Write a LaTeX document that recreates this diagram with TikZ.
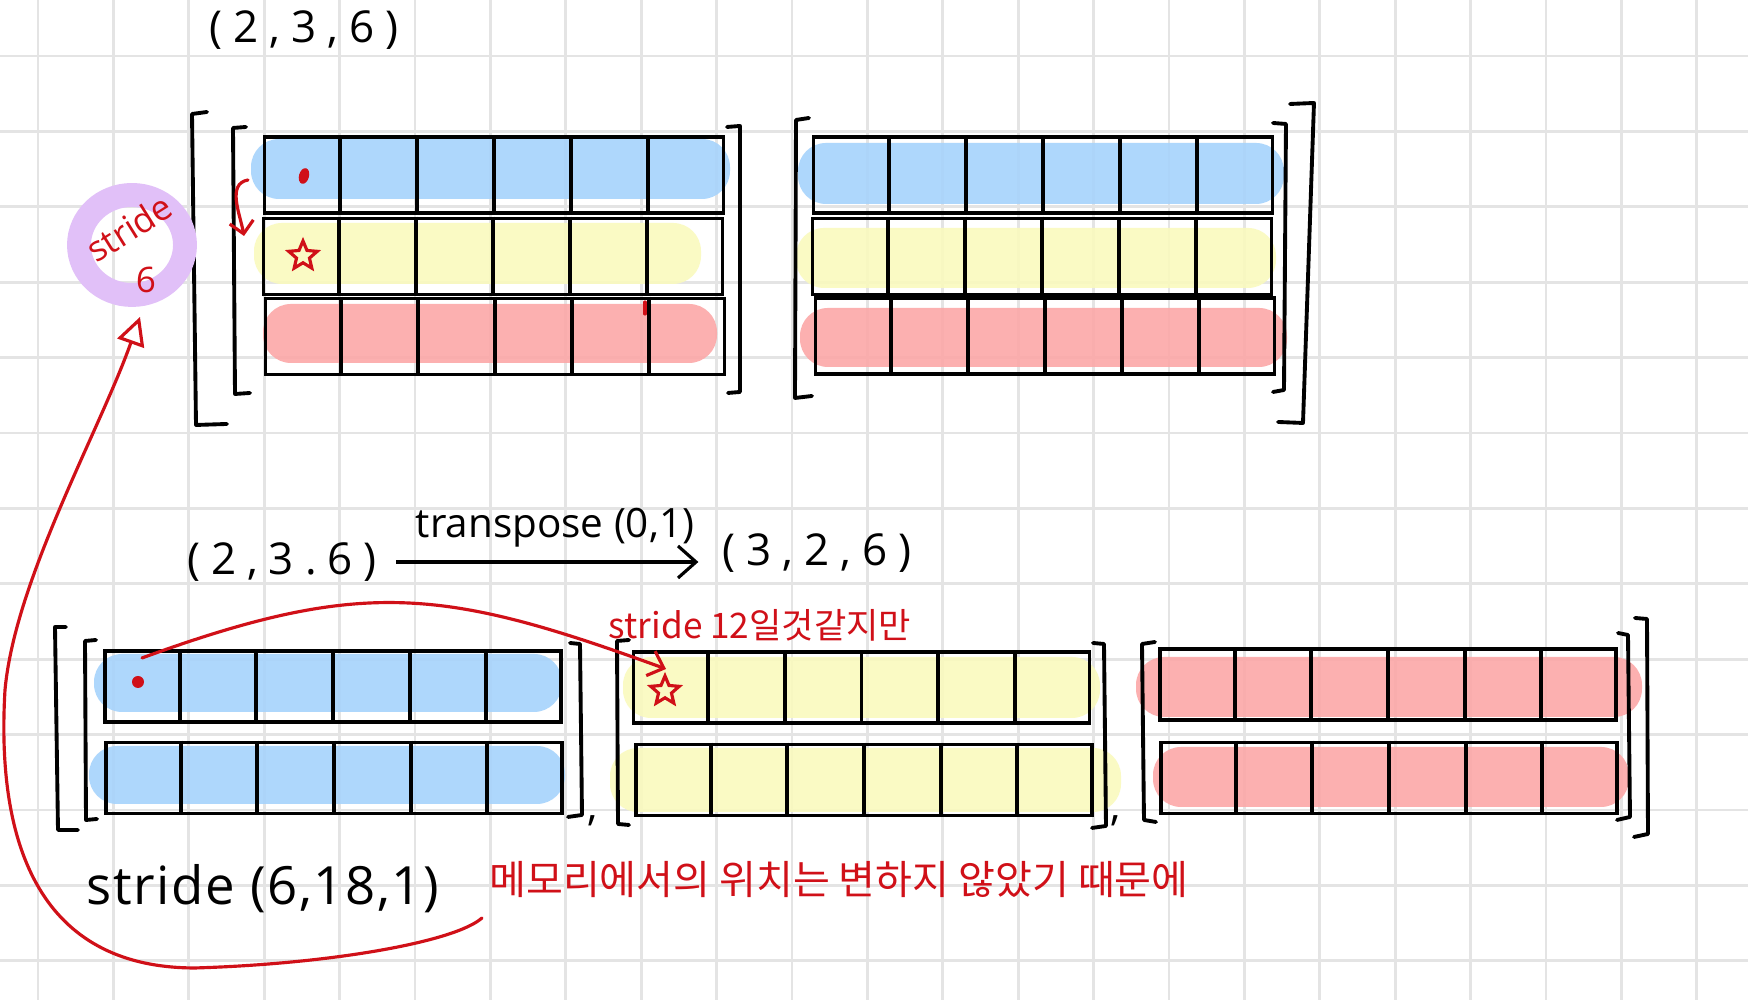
\documentclass[tikz,border=0pt]{standalone}
\usepackage{fontspec}
\setmainfont{Open Sans}
\newfontfamily\korfont{Noto Sans CJK KR}
\newfontfamily\tuplefont[LetterSpace=25]{Open Sans}
\newfontfamily\stridefont[LetterSpace=3]{Open Sans}
\usepackage{tikz}
\usetikzlibrary{arrows.meta,calc,shapes.geometric}
\definecolor{hlblue}{RGB}{166,211,252}
\definecolor{hlyellow}{RGB}{250,250,190}
\definecolor{hlred}{RGB}{252,168,168}
\definecolor{hlpurple}{RGB}{225,192,248}
\definecolor{inkred}{RGB}{208,16,24}
\definecolor{gridgray}{RGB}{228,228,228}
\tikzset{
  gridline/.style={gridgray, line width=0.8pt},
  pill/.style={fill=#1, fill opacity=0.9, rounded corners=2.8mm},
  toprow/.style={draw, line width=1.1pt, minimum width=4.59cm,
    minimum height=0.76cm, inner sep=0pt},
  botrow/.style={toprow, minimum width=4.56cm, minimum height=0.71cm},
  cellline/.style={line width=1.1pt},
  bracketline/.style={line width=1.1pt, line join=round, line cap=round},
  inkline/.style={inkred, line width=0.9pt, line cap=round},
  tuplelbl/.style={font=\tuplefont\fontsize{12.5}{15}\selectfont, inner sep=1pt},
  kornote/.style={font=\korfont\fontsize{10.5}{12}\selectfont, text=inkred, inner sep=1pt},
  ringlbl/.style={font=\fontsize{10}{12}\selectfont, text=inkred, inner sep=0pt},
  redstar/.style={star, star points=5, star point ratio=2.2, draw=inkred,
    line width=0.9pt, minimum size=0.3cm, inner sep=0pt},
}

\begin{document}
\begin{tikzpicture}
\useasboundingbox (0,0) rectangle (17.48,10);
\fill[white] (0,0) rectangle (17.48,10);

% ---------- squared paper ----------
\foreach \k in {0,...,22}
  \draw[gridline] ({0.38+0.754*\k},0) -- ({0.38+0.754*\k},10);
\foreach \k in {0,...,12}
  \draw[gridline] (0,{9.44-0.754*\k}) -- (17.48,{9.44-0.754*\k});

% ---------- highlighter strokes ----------
\fill[pill=hlblue]   (2.51,8.61) rectangle (7.30,8.01);
\fill[pill=hlyellow] (2.54,7.77) rectangle (7.01,7.16);
\fill[pill=hlred]    (2.63,6.96) rectangle (7.17,6.37);
\fill[pill=hlblue]   (7.98,8.57) rectangle (12.84,7.96);
\fill[pill=hlyellow] (7.96,7.72) rectangle (12.76,7.12);
\fill[pill=hlred]    (8.00,6.92) rectangle (12.87,6.33);
\fill[pill=hlblue]   (0.94,3.46) rectangle (5.62,2.88);
\fill[pill=hlblue]   (0.89,2.54) rectangle (5.65,1.96);
\fill[pill=hlyellow] (6.23,3.43) rectangle (11.00,2.82);
\fill[pill=hlyellow] (6.10,2.52) rectangle (11.21,1.88);
\fill[pill=hlred]    (11.36,3.43) rectangle (16.42,2.83);
\fill[pill=hlred]    (11.53,2.53) rectangle (16.29,1.93);

% ---------- tensor (2,3,6) ----------
\node[toprow] (tl1) at (4.94,8.25)  {};
\node[toprow] (tl2) at (4.93,7.435) {};
\node[toprow] (tl3) at (4.95,6.635) {};
\node[toprow] (tr1) at (10.43,8.25) {};
\node[toprow] (tr2) at (10.42,7.435) {};
\node[toprow] (tr3) at (10.45,6.64) {};

% ---------- tensor (3,2,6) ----------
\node[botrow] (ba1) at (3.33,3.135) {};
\node[botrow] (ba2) at (3.34,2.22)  {};
\node[botrow] (bb1) at (8.615,3.125) {};
\node[botrow] (bb2) at (8.64,2.20)  {};
\node[botrow] (bc1) at (13.88,3.155) {};
\node[botrow] (bc2) at (13.89,2.22) {};

\foreach \r in {tl1,tl2,tl3,tr1,tr2,tr3,ba1,ba2,bb1,bb2,bc1,bc2}
  \foreach \i in {1,...,5}
    \draw[cellline] ($(\r.north west)!{\i/6}!(\r.north east)$) -- ($(\r.south west)!{\i/6}!(\r.south east)$);

% ---------- brackets ----------
\draw[bracketline] (2.07,8.88) -- (1.92,8.86) -- (1.96,5.75) -- (2.27,5.76);
\draw[bracketline] (2.46,8.73) -- (2.33,8.72) -- (2.35,6.06) -- (2.50,6.07);
\draw[bracketline] (7.27,8.73) -- (7.40,8.74) -- (7.40,6.08) -- (7.28,6.07);
\draw[bracketline] (8.09,8.82) -- (7.96,8.80) -- (7.95,6.02) -- (8.12,6.04);
\draw[bracketline] (12.73,8.77) -- (12.86,8.76) -- (12.84,6.10) -- (12.73,6.08);
\draw[bracketline] (12.90,8.96) -- (13.14,8.97) -- (13.03,5.77) -- (12.78,5.78);
\draw[bracketline] (0.66,3.73) -- (0.55,3.73) -- (0.58,1.70) -- (0.78,1.70);
\draw[bracketline] (0.96,3.60) -- (0.85,3.59) -- (0.86,1.80) -- (0.97,1.81);
\draw[bracketline] (5.70,3.57) -- (5.80,3.56) -- (5.82,1.85) -- (5.68,1.83);
\draw[bracketline] (6.29,3.60) -- (6.17,3.59) -- (6.18,1.76) -- (6.29,1.75);
\draw[bracketline] (10.93,3.57) -- (11.04,3.56) -- (11.06,1.74) -- (10.92,1.72);
\draw[bracketline] (11.55,3.58) -- (11.42,3.56) -- (11.44,1.80) -- (11.56,1.78);
\draw[bracketline] (16.18,3.67) -- (16.28,3.65) -- (16.30,1.83) -- (16.17,1.80);
\draw[bracketline] (16.35,3.82) -- (16.47,3.81) -- (16.48,1.66) -- (16.34,1.63);
\node[anchor=base, inner sep=0pt, font=\fontsize{12}{14}\selectfont] (comma1) at (5.93,1.79) {,};
\node[anchor=base, inner sep=0pt, font=\fontsize{12}{14}\selectfont] (comma2) at (11.16,1.79) {,};

% ---------- shape labels ----------
\node[tuplelbl] (shapetop) at (3.04,9.70) {(2,3,6)};
\node[tuplelbl] (shapeA) at (2.82,4.38) {(2,3.6)};
\node[tuplelbl] (shapeB) at (8.17,4.47) {(3,2,6)};
\node[font=\fontsize{11.5}{14}\selectfont, inner sep=1pt] (tlabel) at (5.55,4.72) {transpose (0,1)};
\draw[line width=0.9pt, -{Straight Barb[length=1.8mm,width=3.2mm]}, shorten <=1.5mm, shorten >=2mm]
  (shapeA.east) -- (shapeA.east -| shapeB.west);
\node[font=\stridefont\fontsize{15}{18}\selectfont, inner sep=1pt] (strideline) at (2.63,1.11) {stride (6,18,1)};

% ---------- red notes ----------
\node[ellipse, draw=hlpurple, line width=6.8pt, minimum width=1.06cm, minimum height=1.0cm] (ring) at (1.32,7.55) {};
\node[ringlbl, rotate=32] (ringword) at (1.29,7.72) {stride};
\node[ringlbl] (ringsix) at (1.46,7.20) {6};

\node[ellipse, fill=inkred, inner sep=0pt, minimum width=1mm, minimum height=1.6mm, rotate=-15] (dotA) at (3.04,8.24) {};
\node[redstar] (starA) at (3.03,7.44) {};
\coordinate (jumpA) at (2.48,8.20);
\coordinate (jumpB) at (2.44,7.64);
\draw[inkline, -{Straight Barb[length=1.2mm,width=2.4mm]}] (jumpA) to[out=190,in=100] (jumpB);
\draw[inkline] (6.45,6.98) -- (6.45,6.86);

\node[circle, fill=inkred, inner sep=0pt, minimum size=1.2mm] (dotB) at (1.38,3.18) {};
\node[redstar] (starB) at (6.65,3.09) {};
\draw[inkline, -{Straight Barb[length=1.4mm,width=2.6mm]}]
  ([shift={(0.04,0.24)}]dotB.center) to[out=20,in=160,looseness=1.15] ([shift={(0.01,0.22)}]starB.center);
\node[kornote, font=\korfont\fontsize{10}{12}\selectfont] (guess) at (7.60,3.75) {stride 12일것같지만};

\node[kornote, font=\korfont\fontsize{11.4}{13}\selectfont] (memnote) at (8.39,1.20) {메모리에서의 위치는 변하지 않았기 때문에};
\coordinate (memtail) at (4.82,0.82);
\draw[inkline, -{Triangle[open,length=2.8mm,width=2.8mm]}]
  (memtail) .. controls (4.55,0.58) and (3.3,0.36) .. (1.95,0.32)
  .. controls (0.5,0.32) and (-0.05,1.4) .. (0.05,3.1)
  .. controls (0.15,4.2) and (1.0,5.7) .. ([xshift=0.08cm,yshift=-0.1cm]ring.south);

\end{tikzpicture}
\end{document}
